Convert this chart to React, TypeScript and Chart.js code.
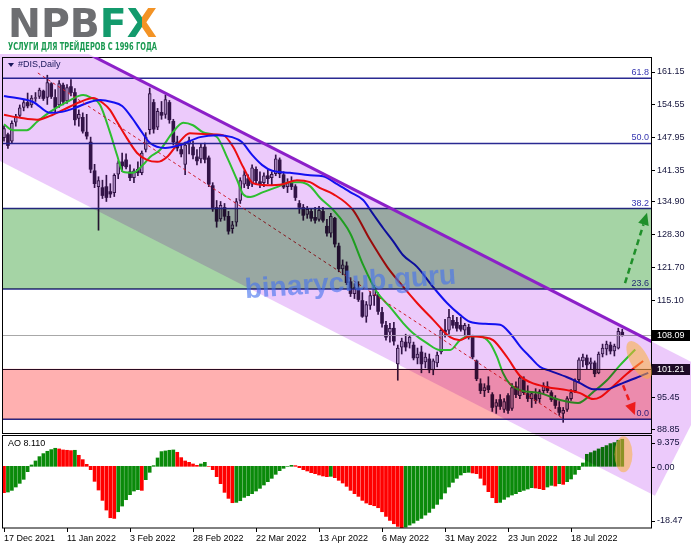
import React, { useEffect, useRef } from 'react';
import { Chart, registerables } from 'chart.js';

Chart.register(...registerables);

const W = 691;
const H = 549;

// ---------- data ----------
const tickLabels = ['17 Dec 2021', '11 Jan 2022', '3 Feb 2022', '28 Feb 2022', '22 Mar 2022', '13 Apr 2022', '6 May 2022', '31 May 2022', '23 Jun 2022', '18 Jul 2022'];
const TICK_STEP = 16;

const opens = [
  147.9, 148.5, 147.2, 151.0, 152.4, 154.0, 155.0, 154.5, 155.8, 156.2,
  157.3, 156.0, 158.8, 156.0, 154.5, 158.5, 155.3, 158.2, 157.0, 151.8,
  152.0, 149.0, 147.0, 141.2, 138.0, 137.8, 138.0, 137.0, 136.8, 140.5,
  143.0, 143.4, 141.0, 139.8, 141.5, 140.8, 145.5, 149.5, 155.0, 150.0,
  153.0, 152.6, 155.0, 151.2, 147.0, 145.5, 142.5, 146.6, 146.0, 144.0,
  143.6, 146.0, 143.8, 138.2, 133.8, 131.5, 133.8, 132.0, 129.5, 130.8,
  135.2, 138.5, 139.6, 138.5, 141.5, 139.0, 138.8, 140.2, 139.8, 140.6,
  143.4, 140.4, 138.0, 139.0, 138.0, 134.6, 133.8, 132.4, 133.0, 131.8,
  131.4, 133.0, 130.0, 128.6, 131.6, 126.0, 121.4, 122.0, 118.8, 116.4,
  117.4, 115.0, 111.8, 114.0, 116.0, 116.2, 112.6, 110.0, 108.6, 109.4,
  102.2, 105.6, 106.6, 106.4, 106.0, 103.4, 104.6, 102.6, 103.2, 101.0,
  102.4, 104.6, 109.0, 109.0, 111.0, 110.6, 110.0, 109.0, 109.6, 107.6,
  102.8, 98.2, 96.8, 97.8, 96.0, 93.6, 95.0, 93.0, 95.8, 93.2,
  97.6, 95.8, 99.0, 96.2, 95.2, 96.0, 95.2, 96.8, 97.6, 96.4,
  95.2, 93.4, 92.2, 93.0, 95.2, 96.8, 99.0, 102.8, 103.4, 102.2,
  102.4, 100.4, 104.2, 105.2, 106.0, 104.8, 105.4, 108.6
];
const highs = [
  150.3, 148.8, 151.3, 152.6, 154.5, 155.6, 156.9, 156.4, 157.0, 157.9,
  157.5, 160.5, 159.0, 157.6, 159.4, 158.9, 158.6, 159.6, 157.8, 153.5,
  152.9, 152.6, 148.0, 142.5, 140.0, 139.3, 140.3, 138.6, 140.6, 143.2,
  144.8, 144.6, 142.4, 141.6, 143.0, 145.2, 148.9, 157.9, 155.6, 153.8,
  155.2, 156.5, 155.4, 151.6, 148.2, 146.5, 147.0, 148.0, 147.2, 145.5,
  146.6, 146.8, 144.2, 138.8, 135.2, 135.0, 134.6, 133.0, 131.0, 135.6,
  139.8, 141.2, 140.4, 142.4, 142.0, 141.0, 140.8, 141.4, 141.0, 144.4,
  143.8, 141.0, 139.6, 140.0, 138.4, 135.2, 134.4, 134.0, 133.6, 133.8,
  134.0, 133.8, 131.4, 132.6, 131.8, 126.6, 123.2, 122.8, 119.6, 118.4,
  118.8, 116.6, 114.8, 116.8, 118.0, 116.6, 113.6, 110.8, 110.4, 110.6,
  106.0, 107.4, 108.2, 108.0, 106.6, 105.4, 105.8, 104.4, 104.2, 103.2,
  104.6, 109.4, 111.2, 113.2, 112.0, 111.6, 111.6, 110.4, 110.2, 108.0,
  103.0, 99.2, 98.2, 99.6, 96.4, 95.0, 96.0, 95.2, 96.2, 98.2,
  98.6, 99.8, 99.6, 97.8, 96.6, 97.2, 97.0, 98.4, 98.6, 96.8,
  95.8, 94.6, 93.4, 95.6, 97.0, 99.2, 103.4, 104.2, 104.0, 103.4,
  102.8, 104.6, 106.2, 106.8, 106.6, 106.2, 109.4, 109.2
];
const lows = [
  147.2, 145.7, 146.8, 150.2, 152.0, 153.3, 153.9, 154.0, 155.2, 155.8,
  155.4, 154.6, 155.8, 153.0, 154.0, 154.5, 154.8, 156.3, 150.4, 150.2,
  148.8, 147.6, 140.8, 137.8, 129.2, 135.6, 135.0, 135.8, 136.0, 139.6,
  141.0, 141.6, 139.2, 138.8, 140.2, 140.4, 145.0, 148.6, 148.8, 149.5,
  151.6, 151.8, 150.8, 146.4, 145.2, 144.0, 140.4, 144.6, 143.6, 142.4,
  142.8, 142.8, 138.0, 133.0, 129.8, 131.0, 131.2, 128.4, 128.6, 130.0,
  134.6, 137.8, 137.6, 138.0, 138.5, 137.8, 138.0, 138.6, 138.4, 140.2,
  139.8, 137.6, 136.8, 137.4, 135.2, 132.6, 131.2, 131.6, 131.0, 130.6,
  131.0, 130.8, 128.0, 127.8, 125.8, 120.8, 120.2, 118.2, 115.8, 115.4,
  114.8, 111.6, 110.6, 113.2, 114.0, 112.2, 109.6, 107.0, 106.6, 106.0,
  98.9, 104.2, 104.8, 105.4, 103.0, 102.2, 100.4, 101.4, 100.4, 100.0,
  101.6, 104.2, 107.6, 108.2, 109.4, 108.8, 108.8, 107.8, 107.2, 103.2,
  98.8, 96.2, 95.6, 96.4, 92.6, 92.2, 93.0, 92.4, 92.2, 92.8,
  95.4, 95.2, 96.0, 94.6, 93.4, 94.2, 94.4, 96.2, 96.4, 94.6,
  93.2, 91.8, 90.4, 92.6, 94.8, 96.4, 98.6, 101.6, 101.2, 101.2,
  99.6, 100.2, 103.6, 104.0, 104.2, 103.8, 105.2, 107.8
];
const closes = [
  149.7, 146.3, 150.8, 152.2, 153.9, 155.0, 154.3, 155.9, 156.0, 157.5,
  155.8, 159.0, 156.2, 154.0, 158.8, 155.2, 158.0, 157.0, 151.5, 152.6,
  149.2, 148.2, 141.5, 138.6, 139.2, 136.2, 135.8, 136.5, 140.3, 142.8,
  142.2, 142.0, 139.8, 141.2, 140.8, 144.8, 148.0, 156.8, 149.6, 153.2,
  152.4, 155.6, 151.5, 147.0, 145.8, 144.6, 146.4, 147.3, 144.4, 143.2,
  146.0, 143.5, 138.5, 133.5, 131.0, 134.2, 132.0, 129.0, 130.3, 135.0,
  139.2, 140.4, 138.2, 141.8, 139.2, 138.4, 140.2, 139.6, 140.5, 143.6,
  140.6, 137.9, 138.8, 138.0, 135.8, 133.8, 132.2, 133.4, 131.6, 131.2,
  133.2, 131.2, 128.6, 132.0, 126.4, 121.4, 122.2, 118.6, 116.4, 117.6,
  115.2, 111.8, 114.2, 116.0, 117.6, 112.8, 110.4, 107.6, 109.4, 106.8,
  105.4, 106.8, 105.6, 107.6, 103.4, 104.2, 102.2, 103.6, 101.0, 102.8,
  104.0, 109.0, 108.6, 111.6, 110.0, 109.4, 109.2, 110.0, 107.6, 103.6,
  99.2, 96.8, 97.4, 97.0, 93.4, 94.4, 93.6, 94.6, 92.8, 97.4,
  96.0, 99.4, 96.4, 95.2, 96.2, 94.8, 96.6, 97.8, 96.8, 95.0,
  93.8, 92.4, 92.8, 95.2, 96.4, 98.8, 103.0, 103.6, 102.0, 102.6,
  100.2, 104.2, 105.4, 106.2, 104.8, 105.8, 108.8, 108.09
];

const aoValues = [
  -7.9, -7.7, -7.2, -6.2, -5.1, -3.9, -1.6, 0.4, 1.6, 2.9,
  3.8, 4.5, 5.0, 5.4, 5.2, 4.9, 4.8, 4.7, 4.8, 3.3,
  2.0, 0.6, -1.0, -4.5, -7.1, -10.2, -13.1, -15.4, -15.6, -13.6,
  -11.9, -10.0, -8.5, -7.4, -7.0, -7.2, -4.0, -1.8, 0.2, 2.5,
  4.4, 4.6, 4.8, 4.9, 4.2, 2.6, 1.6, 1.2, 0.7, 0.3,
  0.7, 1.2, 0.0, -1.0, -3.1, -5.2, -7.8, -9.6, -10.9, -10.8,
  -10.3, -9.3, -8.8, -8.2, -7.4, -6.6, -5.6, -4.6, -3.6, -2.4,
  -1.3, -0.6, 0.0, 0.3, 0.2, -0.4, -1.0, -1.4, -1.9, -2.2,
  -2.6, -2.9, -3.1, -3.0, -3.4, -4.2, -5.0, -6.0, -7.2, -8.2,
  -9.0, -10.2, -11.0, -11.5, -11.8, -12.4, -13.6, -15.0, -16.2, -17.2,
  -18.0, -18.47, -18.2, -17.6, -17.0, -16.2, -15.6, -14.6, -13.8, -12.6,
  -11.4, -9.8, -8.0, -6.2, -4.8, -3.6, -2.6, -1.9, -1.8, -2.0,
  -2.2, -3.6, -5.6, -7.6, -9.4, -10.9, -10.8, -9.9, -9.2, -8.6,
  -8.2, -7.6, -7.2, -6.8, -6.4, -6.5, -6.7, -7.0, -6.2, -5.7,
  -5.9, -5.2, -5.4, -4.6, -3.8, -2.4, -1.0, 1.0, 3.6, 4.1,
  4.6, 5.2, 5.7, 6.2, 6.8, 7.1, 7.8, 8.11
];

// Alligator lines: [bar, price]
const jawLine = [
  [0, 156.3], [7.4, 155.1], [11.7, 152.9], [14.7, 153.1], [18, 153.9], [21.8, 155.1], [24.4, 155.5], [27.4, 155.1],
  [30, 154.3], [32.5, 151.9], [35, 149.0], [37.1, 146.8], [40.9, 145.8], [44.7, 146.4], [49.8, 148.0], [54.1, 148.4],
  [57.9, 148.0], [60.4, 147.0], [63, 144.4], [65.5, 142.4], [68.1, 141.2], [72.6, 140.8], [77.7, 140.3], [81, 140.1],
  [84.6, 138.5], [87.9, 136.9], [91.2, 135.3], [93.7, 132.5], [96.3, 129.6], [98.8, 127.0], [101.3, 124.2], [104.9, 121.8],
  [109, 117.7], [112.5, 114.5], [115.8, 112.1], [118.3, 110.7], [122.2, 110.3], [126, 110.1], [128.5, 108.4], [131, 105.8],
  [133.6, 103.6], [136.1, 101.6], [138.7, 100.8], [143, 99.5], [146.3, 98.3], [149.6, 97.1], [153.1, 97.1], [156.4, 98.1],
  [160.3, 99.3], [163.6, 100.4]
];
const teethLine = [
  [0, 152.5], [4.1, 151.9], [8.4, 151.5], [11.7, 152.3], [15, 153.5], [19.3, 155.1], [22.6, 155.9], [25.1, 154.9],
  [26.9, 153.5], [28.7, 151.1], [31.2, 147.8], [33.8, 144.8], [36.3, 143.4], [38.9, 143.0], [41.4, 144.0], [43.9, 146.4],
  [47.2, 148.8], [51.5, 148.6], [55.6, 148.4], [58.2, 146.0], [60.7, 142.0], [63.2, 138.7], [66.8, 138.3], [70.8, 138.5],
  [74.4, 139.3], [77.7, 138.9], [80.3, 137.7], [83.6, 136.5], [88.6, 133.3], [93, 127.2], [97.3, 121.8], [100.6, 118.5],
  [104.9, 114.5], [109, 111.1], [113.3, 107.6], [115.8, 107.0], [118.3, 107.8], [121.6, 107.6], [124.2, 107.0], [127.7, 103.6],
  [131, 99.8], [133.6, 98.5], [137.9, 97.5], [143, 96.9], [146.3, 96.3], [149.6, 95.1], [151.4, 95.5], [154.7, 97.7],
  [158.2, 100.2], [162.3, 102.8]
];
const lipsLine = [
  [0, 150.6], [2.3, 149.4], [5.8, 149.4], [8.4, 151.1], [11.7, 153.1], [16, 155.1], [20.1, 156.5], [21.8, 156.1],
  [24.4, 154.5], [26.9, 149.0], [28.7, 144.4], [30.2, 141.0], [32.8, 140.8], [35.3, 142.4], [37.1, 144.0], [39.6, 145.4],
  [42.9, 149.0], [45.5, 150.9], [48, 150.4], [50.5, 149.0], [54.1, 148.0], [56.6, 144.0], [59.2, 139.3], [60.7, 136.5],
  [62.5, 135.9], [65.8, 136.9], [69.3, 137.9], [72.6, 138.9], [75.2, 138.9], [77.7, 138.1], [80.3, 135.7], [83.6, 133.3],
  [87.9, 128.6], [91.2, 122.2], [94.7, 116.7], [98, 113.7], [101.3, 110.5], [103.9, 108.4], [107.4, 106.4], [110.7, 105.0],
  [113.3, 105.0], [115.8, 107.0], [118.3, 107.8], [120.9, 107.8], [123.4, 106.4], [125.2, 103.6], [126.7, 100.4], [128.5, 98.1],
  [131, 96.9], [136.1, 96.3], [141.2, 94.9], [145.8, 94.3], [149.6, 96.5], [153.1, 98.9], [156.4, 101.9], [160.3, 105.1]
];

const priceTicks = [161.15, 154.55, 147.95, 141.35, 134.9, 128.3, 121.7, 115.1, 95.45, 88.85];
const aoTicks = [9.375, 0, -18.47];
const PRICE_MIN = 87.84;
const PRICE_MAX = 164.18;
const AO_MIN = -18.47;
const AO_MAX = 9.375;
const X_MIN = -0.254;
const X_MAX = 164.3;

const fibZero = 91.0;
const fibRange = 111.45;
const fibLevels = [61.8, 50.0, 38.2, 23.6, 0.0];
const supportLevel = 101.21;
const lastPrice = 108.09;
const aoLast = '8.110';

const channelA = { bar: 37.08, price: 158.46 };
const channelB = { bar: 164.06, price: 106.86 };
const channelHeight = 30.76;
const channelEndBar = 165.3;
const trendFrom = { bar: 8.6, price: 160.95 };
const trendTo = { bar: 141.7, price: 91.27 };
const upArrow = { from: { bar: 157.7, price: 118.5 }, to: { bar: 163.3, price: 132.7 } };
const downArrow = { from: { bar: 157.2, price: 97.9 }, to: { bar: 160.2, price: 91.9 } };
const priceEllipse = { bar: 161.3, price: 103.0 };
const aoEllipse = { bar: 157.3, value: 3.6 };
const watermarkAt = { bar: 88, price: 118.5 };

// ---------- styles ----------
const DARK = '#361848';
const BULL_FILL = 'rgb(182,170,192)';
const LAVENDER = 'rgb(236,202,251)';
const GREEN_ZONE = 'rgb(165,212,165)';
const RED_ZONE = 'rgb(255,176,176)';
const AXIS_TEXT = '#14143c';
const FONT = '"Liberation Sans", Arial, sans-serif';

function drawArrow(ctx: any, x1: number, y1: number, x2: number, y2: number, color: string) {
  ctx.save();
  const ang = Math.atan2(y2 - y1, x2 - x1);
  const head = 12;
  const ex = x2 - Math.cos(ang) * head;
  const ey = y2 - Math.sin(ang) * head;
  ctx.strokeStyle = color;
  ctx.lineWidth = 2.5;
  ctx.setLineDash([6, 4]);
  ctx.beginPath();
  ctx.moveTo(x1, y1);
  ctx.lineTo(ex, ey);
  ctx.stroke();
  ctx.setLineDash([]);
  ctx.fillStyle = color;
  ctx.beginPath();
  ctx.moveTo(x2, y2);
  ctx.lineTo(ex + Math.sin(ang) * 5.5, ey - Math.cos(ang) * 5.5);
  ctx.lineTo(ex - Math.sin(ang) * 5.5, ey + Math.cos(ang) * 5.5);
  ctx.closePath();
  ctx.fill();
  ctx.restore();
}

const overlayPlugin = {
  id: 'overlay',
  beforeDraw(chart: any) {
    const ctx = chart.ctx;
    ctx.save();
    ctx.fillStyle = '#ffffff';
    ctx.fillRect(0, 0, W, H);
    ctx.restore();
  },
  afterDatasetsDraw(chart: any) {
    const { ctx, chartArea: ca, scales } = chart;
    const xs = scales.x;
    const ys = scales.y;
    const ao = scales.ao;
    const X = (b: number) => xs.getPixelForValue(b);
    const Y = (p: number) => ys.getPixelForValue(p);
    const A = (v: number) => ao.getPixelForValue(v);
    const left = ca.left;
    const right = ca.right;
    const mainTop = ys.top;
    const mainBottom = ys.bottom - 2;
    const aoTop = ao.top;
    const aoBottom = ao.bottom;

    const clipMain = () => {
      ctx.beginPath();
      ctx.rect(left, mainTop, right - left, mainBottom - mainTop);
      ctx.clip();
    };

    // horizontal lines (normal)
    ctx.save();
    clipMain();
    ctx.strokeStyle = '#a8a8a8';
    ctx.lineWidth = 1;
    ctx.beginPath();
    ctx.moveTo(left, Math.round(Y(lastPrice)) + 0.5);
    ctx.lineTo(right, Math.round(Y(lastPrice)) + 0.5);
    ctx.stroke();
    ctx.strokeStyle = '#2a1030';
    ctx.beginPath();
    ctx.moveTo(left, Math.round(Y(supportLevel)) + 0.5);
    ctx.lineTo(right, Math.round(Y(supportLevel)) + 0.5);
    ctx.stroke();
    ctx.strokeStyle = '#2a2a92';
    ctx.lineWidth = 1.5;
    ctx.font = `9px ${FONT}`;
    ctx.fillStyle = '#3535b0';
    ctx.textAlign = 'right';
    ctx.textBaseline = 'alphabetic';
    for (const lv of fibLevels) {
      const y = Y(fibZero + (fibRange * lv) / 100);
      ctx.beginPath();
      ctx.moveTo(left, y);
      ctx.lineTo(right, y);
      ctx.stroke();
      ctx.fillText(lv.toFixed(1), right - 2, y - 3);
    }
    // dashed trend line
    ctx.strokeStyle = '#e0202a';
    ctx.lineWidth = 1;
    ctx.setLineDash([3, 3]);
    ctx.beginPath();
    ctx.moveTo(X(trendFrom.bar), Y(trendFrom.price));
    ctx.lineTo(X(trendTo.bar), Y(trendTo.price));
    ctx.stroke();
    ctx.setLineDash([]);
    ctx.restore();

    // panel labels
    ctx.save();
    ctx.fillStyle = '#1c1c5c';
    ctx.beginPath();
    ctx.moveTo(left + 5, mainTop + 6);
    ctx.lineTo(left + 11, mainTop + 6);
    ctx.lineTo(left + 8, mainTop + 10);
    ctx.closePath();
    ctx.fill();
    ctx.font = `9px ${FONT}`;
    ctx.textAlign = 'left';
    ctx.textBaseline = 'middle';
    ctx.fillText('#DIS,Daily', left + 15, mainTop + 8);
    ctx.fillStyle = '#000';
    ctx.fillText('AO ' + aoLast, left + 5, aoTop + 9);
    // AO axis labels and ticks
    ctx.fillStyle = AXIS_TEXT;
    ctx.strokeStyle = '#000';
    ctx.lineWidth = 1;
    aoTicks.forEach((v, i) => {
      const py = A(v);
      const ty = i === 0 ? py + 8 : i === aoTicks.length - 1 ? py - 7 : py + 1;
      ctx.beginPath();
      ctx.moveTo(right, Math.round(ty) + 0.5);
      ctx.lineTo(right + 4, Math.round(ty) + 0.5);
      ctx.stroke();
      ctx.fillText(v === 0 ? '0.00' : String(v), right + 6, ty);
    });
    ctx.restore();

    // frames
    ctx.save();
    ctx.strokeStyle = '#000';
    ctx.lineWidth = 1;
    ctx.strokeRect(left - 0.5, mainTop + 0.5, right - left + 1, mainBottom - mainTop);
    ctx.strokeRect(left - 0.5, aoTop + 0.5, right - left + 1, aoBottom - aoTop - 0.5);
    ctx.restore();

    // multiply zones
    ctx.save();
    ctx.globalCompositeOperation = 'multiply';
    // channel
    const ax = X(channelA.bar), ay = Y(channelA.price);
    const bx = X(channelB.bar), by = Y(channelB.price);
    const len = Math.hypot(bx - ax, by - ay);
    const dx = (bx - ax) / len, dy = (by - ay) / len;
    const slope = (channelB.price - channelA.price) / (channelB.bar - channelA.bar);
    const upperAt = (b: number) => channelA.price + slope * (b - channelA.bar);
    const lEx = X(channelEndBar), lEy = Y(upperAt(channelEndBar) - channelHeight);
    const shift = Y(upperAt(channelEndBar) - channelHeight) - Y(upperAt(channelEndBar));
    const proj = (lEx - ax) * dx + (lEy - ay) * dy;
    const uEx = ax + dx * proj, uEy = ay + dy * proj;
    const uLx = ax - dx * 1500, uLy = ay - dy * 1500;
    ctx.save();
    ctx.beginPath();
    ctx.rect(0, mainTop - 3, W, H);
    ctx.clip();
    ctx.fillStyle = LAVENDER;
    ctx.beginPath();
    ctx.moveTo(uLx, uLy);
    ctx.lineTo(uEx, uEy);
    ctx.lineTo(lEx, lEy);
    ctx.lineTo(uLx, uLy + shift);
    ctx.closePath();
    ctx.fill();
    ctx.restore();
    // zones
    ctx.save();
    clipMain();
    const g1 = Y(fibZero + fibRange * 0.382), g2 = Y(fibZero + fibRange * 0.236);
    ctx.fillStyle = GREEN_ZONE;
    ctx.fillRect(left, g1, right - left, g2 - g1);
    const r1 = Y(supportLevel), r2 = Y(fibZero);
    ctx.fillStyle = RED_ZONE;
    ctx.fillRect(left, r1, right - left, r2 - r1);
    ctx.restore();
    ctx.restore();

    // purple channel line
    ctx.save();
    clipMain();
    ctx.strokeStyle = 'rgb(140,32,200)';
    ctx.lineWidth = 3;
    ctx.beginPath();
    ctx.moveTo(uLx, uLy);
    ctx.lineTo(uEx, uEy);
    ctx.stroke();
    ctx.restore();

    // arrows
    drawArrow(ctx, X(upArrow.from.bar), Y(upArrow.from.price), X(upArrow.to.bar), Y(upArrow.to.price), '#1f8f2a');
    drawArrow(ctx, X(downArrow.from.bar), Y(downArrow.from.price), X(downArrow.to.bar), Y(downArrow.to.price), '#ee1c1c');

    // highlight ellipses
    ctx.save();
    ctx.fillStyle = 'rgba(250,176,60,0.55)';
    ctx.beginPath();
    ctx.ellipse(X(priceEllipse.bar), Y(priceEllipse.price), 9, 21, -0.5, 0, Math.PI * 2);
    ctx.fill();
    ctx.beginPath();
    ctx.ellipse(X(aoEllipse.bar), A(aoEllipse.value), 9, 18, 0, 0, Math.PI * 2);
    ctx.fill();
    ctx.restore();

    // watermark
    ctx.save();
    ctx.translate(X(watermarkAt.bar), Y(watermarkAt.price));
    ctx.rotate((-4 * Math.PI) / 180);
    ctx.font = `bold 28px ${FONT}`;
    ctx.textAlign = 'center';
    ctx.textBaseline = 'middle';
    ctx.fillStyle = 'rgba(70,115,238,0.62)';
    ctx.fillText('binaryclub.guru', 0, 0);
    ctx.restore();

    // price boxes
    ctx.save();
    ctx.font = `9px ${FONT}`;
    ctx.textAlign = 'left';
    ctx.textBaseline = 'middle';
    const box = (p: number, bg: string) => {
      const y = Math.round(Y(p));
      ctx.fillStyle = bg;
      ctx.fillRect(right + 1, y - 5, 38, 11);
      ctx.fillStyle = '#fff';
      ctx.fillText(p.toFixed(2), right + 6, y + 0.5);
    };
    box(lastPrice, '#000');
    box(supportLevel, '#1e0a26');
    ctx.restore();
  },
  afterDraw(chart: any) {
    const ctx = chart.ctx;
    // logo
    ctx.save();
    ctx.font = 'bold 39px "DejaVu Sans", sans-serif';
    ctx.textBaseline = 'alphabetic';
    ctx.textAlign = 'left';
    const total = ctx.measureText('NPBFX').width;
    const sx = 149 / total;
    ctx.translate(8, 37);
    ctx.scale(sx, 1);
    ctx.fillStyle = '#6d6e71';
    ctx.fillText('NPB', 0, 0);
    let cx = ctx.measureText('NPB').width;
    ctx.fillStyle = '#139a6c';
    ctx.fillText('F', cx, 0);
    cx += ctx.measureText('F').width;
    const wx = ctx.measureText('X').width;
    const grad = ctx.createLinearGradient(cx, 0, cx + wx, 0);
    grad.addColorStop(0, '#139a6c');
    grad.addColorStop(0.5, '#139a6c');
    grad.addColorStop(0.5, '#f39325');
    grad.addColorStop(1, '#f39325');
    ctx.fillStyle = grad;
    ctx.fillText('X', cx, 0);
    ctx.restore();

    ctx.save();
    ctx.font = 'bold 11px "DejaVu Sans", sans-serif';
    const sub = 'УСЛУГИ ДЛЯ ТРЕЙДЕРОВ С 1996 ГОДА';
    const sw = ctx.measureText(sub).width;
    ctx.translate(8, 50);
    ctx.scale(149 / sw, 1);
    ctx.fillStyle = '#1b9a52';
    ctx.fillText(sub, 0, 0);
    ctx.restore();
  },
};

export default function App() {
  const ref = useRef<HTMLCanvasElement | null>(null);

  useEffect(() => {
    const canvas = ref.current;
    if (!canvas) return;

    const wicks = opens.map((_, i) => ({ x: i, y: [lows[i], highs[i]] }));
    const bulls: any[] = [];
    const bears: any[] = [];
    opens.forEach((o, i) => {
      const c = closes[i];
      if (c >= o) bulls.push({ x: i, y: [o, c] });
      else bears.push({ x: i, y: [c, o] });
    });
    const aoData = aoValues.map((v, i) => ({ x: i, y: v }));
    const aoColors = aoValues.map((v, i) => (i > 0 && v > aoValues[i - 1] ? '#0a8a0a' : '#ff0000'));
    const toPts = (arr: number[][]) => arr.map(([b, p]) => ({ x: b, y: p }));
    const lineDs = (label: string, arr: number[][], color: string) => ({
      type: 'line',
      label,
      data: toPts(arr),
      yAxisID: 'y',
      borderColor: color,
      borderWidth: 2,
      pointRadius: 0,
      cubicInterpolationMode: 'monotone',
      fill: false,
      order: 0,
    });

    const chart = new Chart(canvas, {
      type: 'bar',
      data: {
        datasets: [
          lineDs('Jaw', jawLine, '#1414f5'),
          lineDs('Teeth', teethLine, '#ff1010'),
          lineDs('Lips', lipsLine, '#30f030'),
          { type: 'bar', label: 'Bull', data: bulls, yAxisID: 'y', backgroundColor: BULL_FILL, borderColor: DARK, borderWidth: 1, borderSkipped: false, barThickness: 3, grouped: false, order: 1 },
          { type: 'bar', label: 'Bear', data: bears, yAxisID: 'y', backgroundColor: DARK, borderWidth: 0, barThickness: 3, grouped: false, order: 1 },
          { type: 'bar', label: 'Wick', data: wicks, yAxisID: 'y', backgroundColor: DARK, borderWidth: 0, barThickness: 1, grouped: false, order: 2 },
          { type: 'bar', label: 'AO', data: aoData, yAxisID: 'ao', backgroundColor: aoColors, borderWidth: 0, barThickness: 3, grouped: false, order: 3 },
        ] as any,
      },
      options: {
        responsive: false,
        animation: false,
        devicePixelRatio: 1,
        events: [],
        layout: { padding: { left: 3, top: 57, right: 0, bottom: 0 } },
        plugins: { legend: { display: false }, tooltip: { enabled: false }, title: { display: false } },
        scales: {
          x: {
            type: 'linear',
            min: X_MIN,
            max: X_MAX,
            offset: false,
            afterBuildTicks: (s: any) => {
              s.ticks = tickLabels.map((_, i) => ({ value: i * TICK_STEP }));
            },
            afterFit: (s: any) => {
              s.height = 21;
            },
            ticks: {
              autoSkip: false,
              maxRotation: 0,
              minRotation: 0,
              align: 'start',
              padding: 1,
              color: '#000',
              font: { family: FONT, size: 9 },
              callback: (v: any) => tickLabels[Math.round(Number(v) / TICK_STEP)] ?? '',
            },
            grid: { display: true, drawOnChartArea: false, drawTicks: true, tickLength: 4, color: '#000', offset: false },
            border: { display: false },
          },
          y: {
            type: 'linear',
            position: 'right',
            stack: 'panes',
            stackWeight: 378,
            min: PRICE_MIN,
            max: PRICE_MAX,
            afterBuildTicks: (s: any) => {
              s.ticks = priceTicks.map((v) => ({ value: v }));
            },
            afterFit: (s: any) => {
              s.width = 40;
            },
            ticks: {
              padding: 2,
              color: AXIS_TEXT,
              font: { family: FONT, size: 9 },
              callback: (v: any) => Number(v).toFixed(2),
            },
            grid: { display: true, drawOnChartArea: false, drawTicks: true, tickLength: 4, color: '#000' },
            border: { display: false },
          },
          ao: {
            type: 'linear',
            position: 'right',
            stack: 'panes',
            stackWeight: 93,
            min: AO_MIN,
            max: AO_MAX,
            afterFit: (s: any) => {
              s.width = 40;
            },
            ticks: { display: false },
            grid: { display: false },
            border: { display: false },
          },
        },
      } as any,
      plugins: [overlayPlugin],
    });

    return () => chart.destroy();
  }, []);

  return (
    <div style={{ position: 'absolute', left: 0, top: 0, width: W, height: H, background: '#fff' }}>
      <canvas ref={ref} width={W} height={H} style={{ display: 'block', width: W, height: H }} />
    </div>
  );
}
